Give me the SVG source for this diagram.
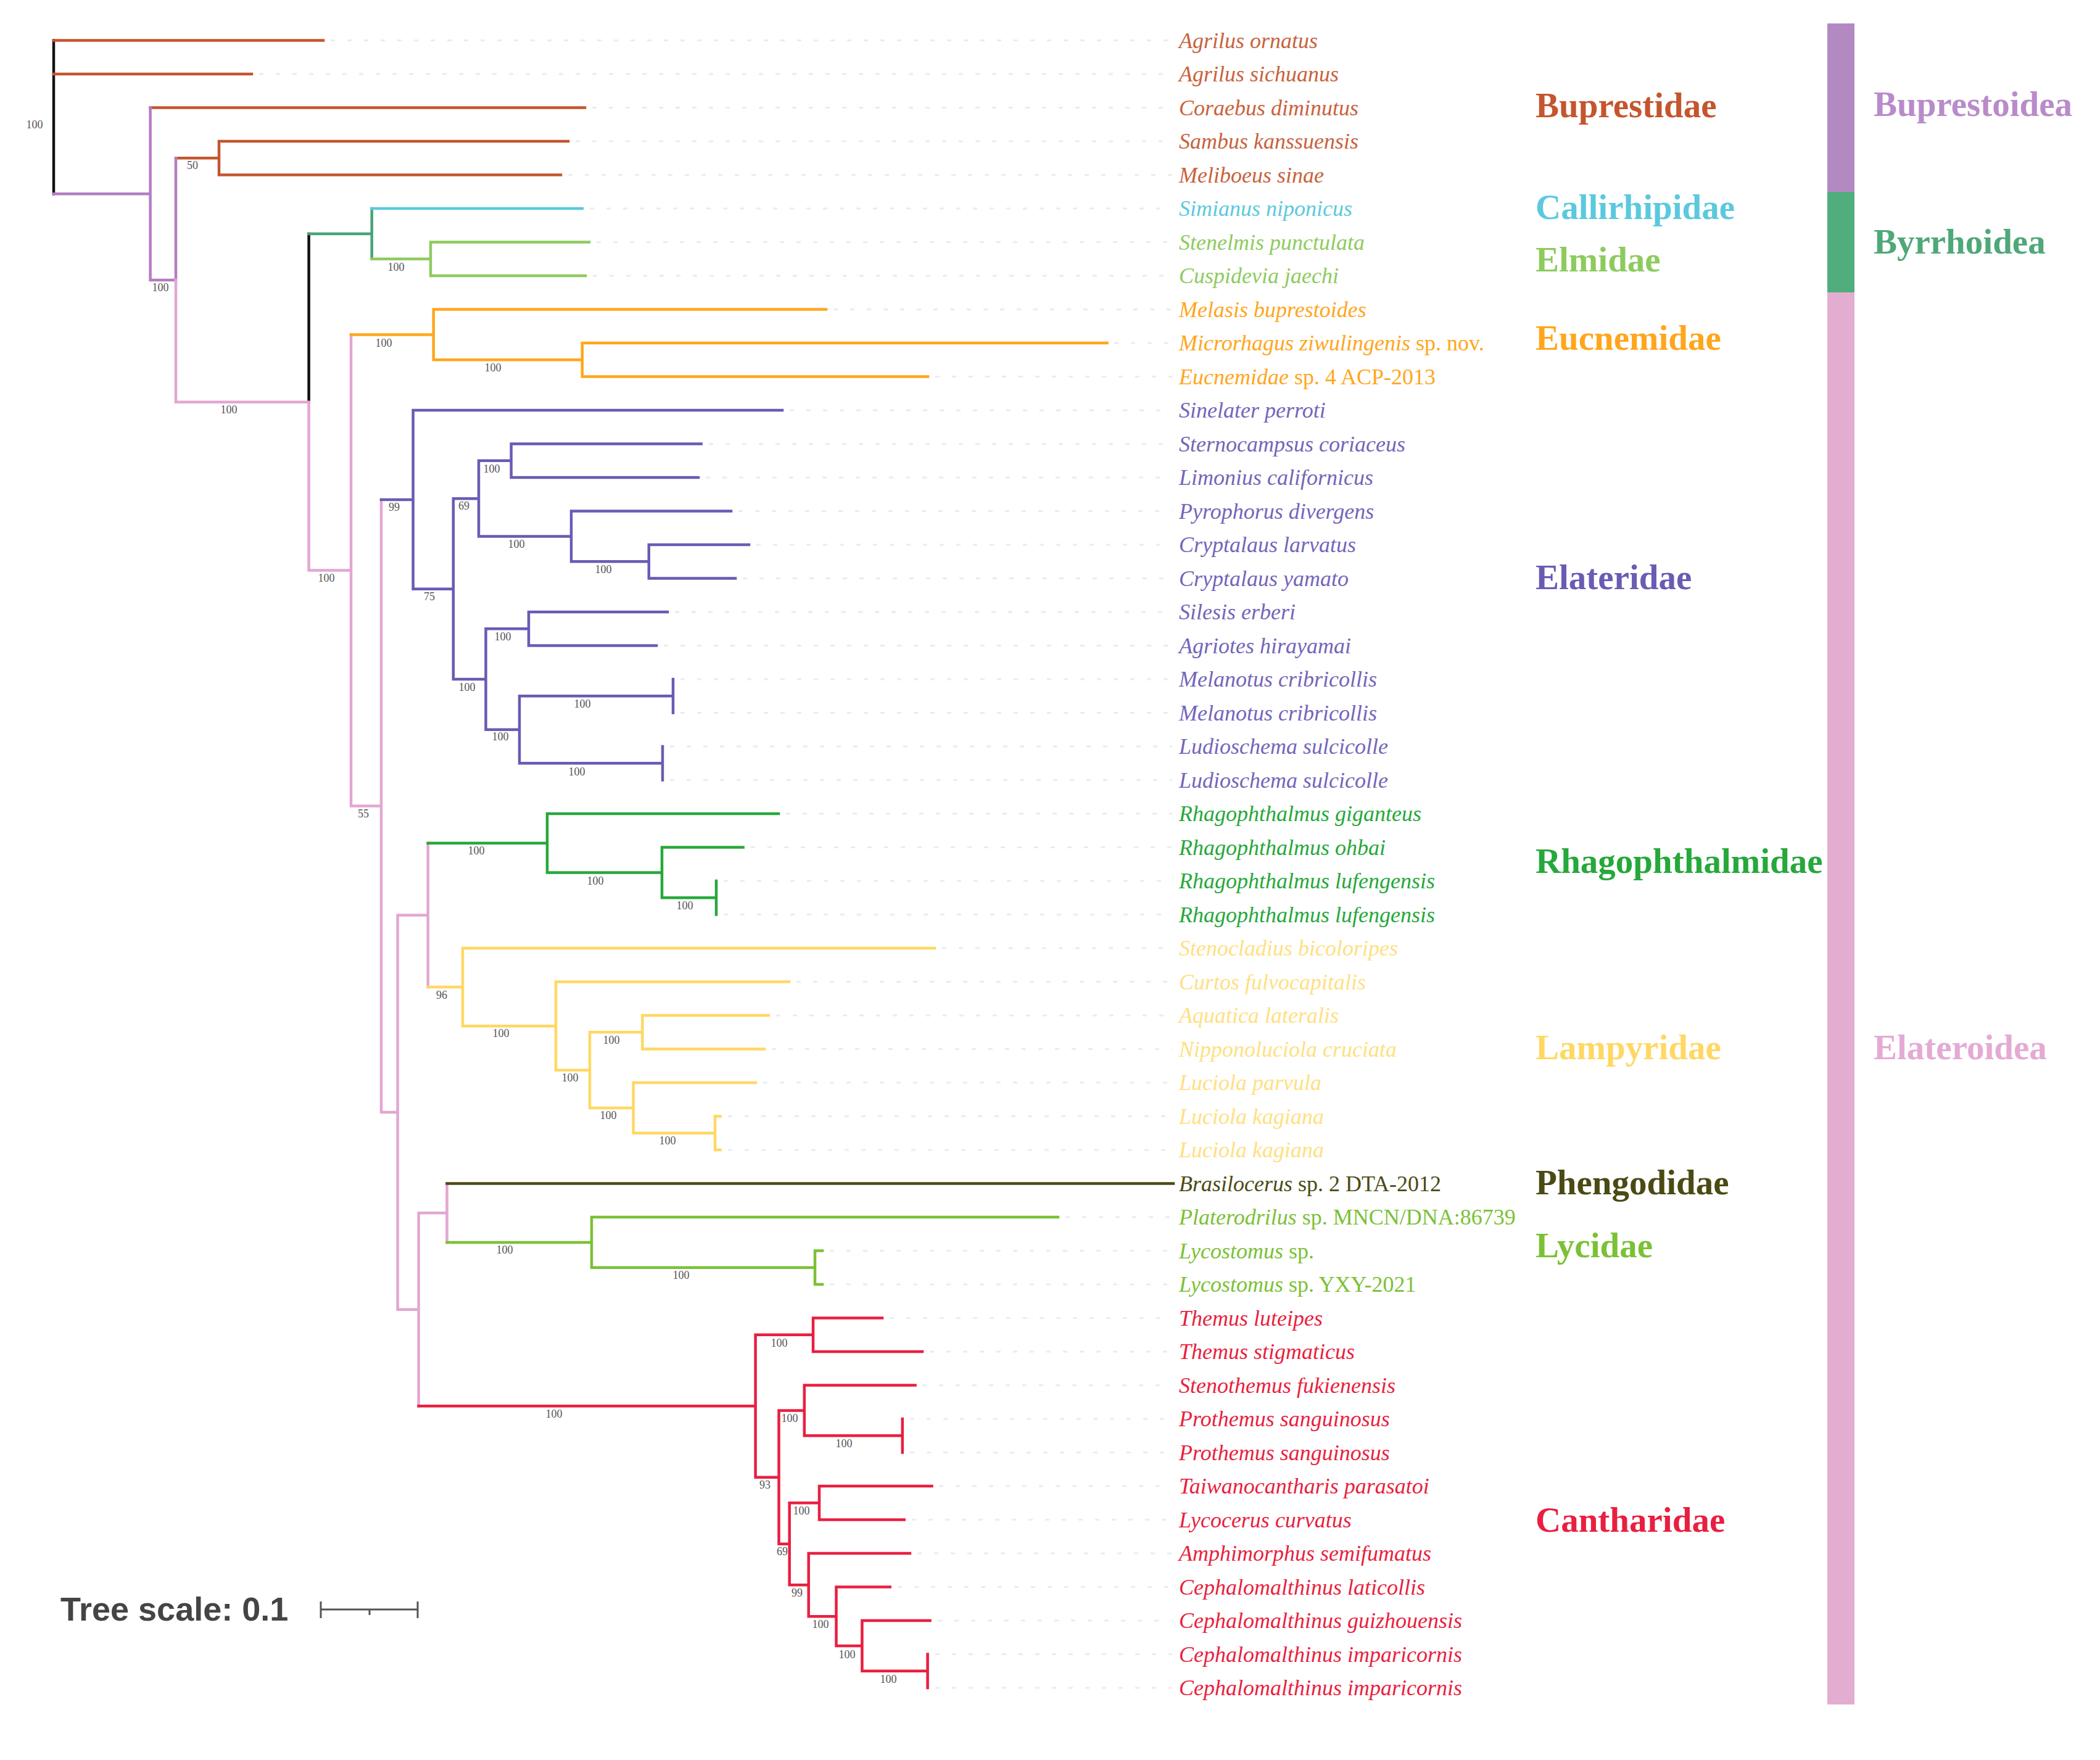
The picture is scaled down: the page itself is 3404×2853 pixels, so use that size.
<svg xmlns="http://www.w3.org/2000/svg" width="3404" height="2853" viewBox="0 0 3404 2853">
<style>
.br{fill:none;stroke-width:4.5;stroke-linecap:square}
.lf{font-family:"Liberation Serif","Times New Roman",serif;font-size:36px;font-style:italic}
.r{font-style:normal}
.fam{font-family:"Liberation Serif","Times New Roman",serif;font-size:57px;font-weight:bold}
.bs{font-family:"Liberation Serif","Times New Roman",serif;font-size:18px;fill:#555;text-anchor:middle}
.ld{stroke:#ECECEC;stroke-width:3;stroke-dasharray:7 20;fill:none}
.c-bup{fill:#C4552E}.c-cal{fill:#5BC9DD}.c-elm{fill:#8DCB5E}.c-euc{fill:#FFA61C}.c-ela{fill:#6A5BB3}
.c-rha{fill:#26A83B}.c-lam{fill:#FFD863}.c-phe{fill:#4B4A14}.c-lyc{fill:#7BC136}.c-can{fill:#E91F40}
.lf.c-bup{fill:#C8623C}.lf.c-lam{fill:#FFDF82}.lf.c-ela{fill:#7465BA}
</style>
<rect width="3404" height="2853" fill="#FFFFFF"/>

<g id="connectors">
  <path class="br" stroke="#111111" d="M87 65.6V314.3M500.6 379V651.75"/>
  <path class="br" stroke="#C4552E" d="M87 65.6H524M87 120.1H408M243.6 174.6H948M285 256.35H355M355 229.1V283.6M355 229.1H921M355 283.6H909"/>
  <path class="br" stroke="#B47DC3" d="M87 314.3H243.6M243.6 174.6V454.05M243.6 454.05H285M285 256.35V454.05"/>
  <path class="br" stroke="#E3A6D2" d="M285 454.05V651.75M285 651.75H500.6M500.6 651.75V924.5M500.6 924.5H569M569 542.5V1306.5M569 1306.5H618M618 809.9V1803.1M618 1803.1H644.6M644.6 1483.45V2122.8M644.6 1483.45H693.7M693.7 1366.8V1600.1M644.6 2122.8H678.6M678.6 1966.3V2279.25M678.6 1966.3H724.5M724.5 1918.6V2014"/>
  <path class="br" stroke="#45A676" d="M500.6 379H602.7M602.7 338.1V419.85"/>
  <path class="br" stroke="#5BC9DD" d="M602.7 338.1H943.8"/>
  <path class="br" stroke="#8DCB5E" d="M602.7 419.85H698M698 392.6V447.1M698 392.6H955M698 447.1H949"/>
  <path class="br" stroke="#FFA61C" d="M569 542.5H702.7M702.7 501.6V583.35M702.7 501.6H1339M702.7 583.35H943.75M943.75 556.1V610.6M943.75 556.1H1794.6M943.75 610.6H1504"/>
  <path class="br" stroke="#6A5BB3" d="M618 809.9H669.6M669.6 665.1V954.65M669.6 665.1H1268M669.6 954.65H734.8M734.8 808.2V1101.1M734.8 808.2H776M776 746.85V869.5M776 746.85H828.6M828.6 719.6V774.1M828.6 719.6H1136.6M828.6 774.1H1132M776 869.5H926M926 828.6V910.35M926 828.6H1185M926 910.35H1051.8M1051.8 883.1V937.6M1051.8 883.1H1214M1051.8 937.6H1192M734.8 1101.1H787.5M787.5 1019.35V1182.85M787.5 1019.35H857M857 992.1V1046.6M857 992.1H1082M857 1046.6H1064M787.5 1182.85H842M842 1128.35V1237.35M842 1128.35H1091M1091 1101.1V1155.6M842 1237.35H1074M1074 1210.1V1264.6"/>
  <path class="br" stroke="#26A83B" d="M693.7 1366.8H887M887 1319.1V1414.5M887 1319.1H1262M887 1414.5H1073M1073 1373.6V1455.35M1073 1373.6H1204.6M1073 1455.35H1161M1161 1428.1V1482.6"/>
  <path class="br" stroke="#FFD863" d="M693.7 1600.1H750M750 1537.1V1663.15M750 1537.1H1515M750 1663.15H901M901 1591.6V1734.7M901 1591.6H1279M901 1734.7H956M956 1673.35V1796M956 1673.35H1041.3M1041.3 1646.1V1700.6M1041.3 1646.1H1246M1041.3 1700.6H1239M956 1796H1026.6M1026.6 1755.1V1836.85M1026.6 1755.1H1225M1026.6 1836.85H1159M1159 1809.6V1864.1M1159 1809.6H1167.6M1159 1864.1H1167.6"/>
  <path class="br" stroke="#4B4A14" d="M724.5 1918.6H1902"/>
  <path class="br" stroke="#7BC136" d="M724.5 2014H959M959 1973.1V2054.85M959 1973.1H1715M959 2054.85H1321M1321 2027.6V2082.1M1321 2027.6H1333M1321 2082.1H1333"/>
  <path class="br" stroke="#E91F40" d="M678.6 2279.25H1224.6M1224.6 2163.85V2394.65M1224.6 2163.85H1318M1318 2136.6V2191.1M1318 2136.6H1430M1318 2191.1H1495M1224.6 2394.65H1262.5M1262.5 2286.5V2502.8M1262.5 2286.5H1303.8M1303.8 2245.6V2327.35M1303.8 2245.6H1483.5M1303.8 2327.35H1462.8M1462.8 2300.1V2354.6M1262.5 2502.8H1279.7M1279.7 2436.35V2569.2M1279.7 2436.35H1328M1328 2409.1V2463.6M1328 2409.1H1510.5M1328 2463.6H1465.7M1279.7 2569.2H1310.7M1310.7 2518.1V2620.3M1310.7 2518.1H1474.9M1310.7 2620.3H1355.5M1355.5 2572.6V2668M1355.5 2572.6H1442.7M1355.5 2668H1397.4M1397.4 2627.1V2708.85M1397.4 2627.1H1507.6M1397.4 2708.85H1503.6M1503.6 2681.6V2736.1"/>
</g>

<g id="support-values">
  <text class="bs" x="56" y="208">100</text>
  <text class="bs" x="260" y="472">100</text>
  <text class="bs" x="312" y="274">50</text>
  <text class="bs" x="642" y="439">100</text>
  <text class="bs" x="371" y="670">100</text>
  <text class="bs" x="529" y="943">100</text>
  <text class="bs" x="622" y="562">100</text>
  <text class="bs" x="799" y="602">100</text>
  <text class="bs" x="589" y="1325">55</text>
  <text class="bs" x="639" y="828">99</text>
  <text class="bs" x="696" y="973">75</text>
  <text class="bs" x="752" y="826">69</text>
  <text class="bs" x="797" y="766">100</text>
  <text class="bs" x="837" y="888">100</text>
  <text class="bs" x="978" y="929">100</text>
  <text class="bs" x="757" y="1120">100</text>
  <text class="bs" x="815" y="1038">100</text>
  <text class="bs" x="811" y="1200">100</text>
  <text class="bs" x="944" y="1147">100</text>
  <text class="bs" x="935" y="1257">100</text>
  <text class="bs" x="772" y="1385">100</text>
  <text class="bs" x="965" y="1434">100</text>
  <text class="bs" x="1110" y="1474">100</text>
  <text class="bs" x="716" y="1619">96</text>
  <text class="bs" x="812" y="1681">100</text>
  <text class="bs" x="924" y="1753">100</text>
  <text class="bs" x="991" y="1692">100</text>
  <text class="bs" x="986" y="1814">100</text>
  <text class="bs" x="1082" y="1855">100</text>
  <text class="bs" x="818" y="2032">100</text>
  <text class="bs" x="1104" y="2073">100</text>
  <text class="bs" x="898" y="2298">100</text>
  <text class="bs" x="1263" y="2183">100</text>
  <text class="bs" x="1240" y="2413">93</text>
  <text class="bs" x="1280" y="2305">100</text>
  <text class="bs" x="1368" y="2346">100</text>
  <text class="bs" x="1268" y="2521">69</text>
  <text class="bs" x="1299" y="2455">100</text>
  <text class="bs" x="1292" y="2588">99</text>
  <text class="bs" x="1330" y="2639">100</text>
  <text class="bs" x="1373" y="2688">100</text>
  <text class="bs" x="1440" y="2728">100</text>
</g>

<g id="leaves">
  <g id="leaf-00"><path class="ld" d="M536 65.6H1900"/><text class="lf c-bup" x="1911" y="77.6">Agrilus ornatus</text></g>
  <g id="leaf-01"><path class="ld" d="M420 120.1H1900"/><text class="lf c-bup" x="1911" y="132.1">Agrilus sichuanus</text></g>
  <g id="leaf-02"><path class="ld" d="M960 174.6H1900"/><text class="lf c-bup" x="1911" y="186.6">Coraebus diminutus</text></g>
  <g id="leaf-03"><path class="ld" d="M933 229.1H1900"/><text class="lf c-bup" x="1911" y="241.1">Sambus kanssuensis</text></g>
  <g id="leaf-04"><path class="ld" d="M921 283.6H1900"/><text class="lf c-bup" x="1911" y="295.6">Meliboeus sinae</text></g>
  <g id="leaf-05"><path class="ld" d="M956 338.1H1900"/><text class="lf c-cal" x="1911" y="350.1">Simianus niponicus</text></g>
  <g id="leaf-06"><path class="ld" d="M967 392.6H1900"/><text class="lf c-elm" x="1911" y="404.6">Stenelmis punctulata</text></g>
  <g id="leaf-07"><path class="ld" d="M961 447.1H1900"/><text class="lf c-elm" x="1911" y="459.1">Cuspidevia jaechi</text></g>
  <g id="leaf-08"><path class="ld" d="M1351 501.6H1900"/><text class="lf c-euc" x="1911" y="513.6">Melasis buprestoides</text></g>
  <g id="leaf-09"><path class="ld" d="M1806 556.1H1900"/><text class="lf c-euc" x="1911" y="568.1">Microrhagus ziwulingenis<tspan class="r"> sp. nov.</tspan></text></g>
  <g id="leaf-10"><path class="ld" d="M1516 610.6H1900"/><text class="lf c-euc" x="1911" y="622.6">Eucnemidae<tspan class="r"> sp. 4 ACP-2013</tspan></text></g>
  <g id="leaf-11"><path class="ld" d="M1280 665.1H1900"/><text class="lf c-ela" x="1911" y="677.1">Sinelater perroti</text></g>
  <g id="leaf-12"><path class="ld" d="M1149 719.6H1900"/><text class="lf c-ela" x="1911" y="731.6">Sternocampsus coriaceus</text></g>
  <g id="leaf-13"><path class="ld" d="M1144 774.1H1900"/><text class="lf c-ela" x="1911" y="786.1">Limonius californicus</text></g>
  <g id="leaf-14"><path class="ld" d="M1197 828.6H1900"/><text class="lf c-ela" x="1911" y="840.6">Pyrophorus divergens</text></g>
  <g id="leaf-15"><path class="ld" d="M1226 883.1H1900"/><text class="lf c-ela" x="1911" y="895.1">Cryptalaus larvatus</text></g>
  <g id="leaf-16"><path class="ld" d="M1204 937.6H1900"/><text class="lf c-ela" x="1911" y="949.6">Cryptalaus yamato</text></g>
  <g id="leaf-17"><path class="ld" d="M1094 992.1H1900"/><text class="lf c-ela" x="1911" y="1004.1">Silesis erberi</text></g>
  <g id="leaf-18"><path class="ld" d="M1076 1046.6H1900"/><text class="lf c-ela" x="1911" y="1058.6">Agriotes hirayamai</text></g>
  <g id="leaf-19"><path class="ld" d="M1103 1101.1H1900"/><text class="lf c-ela" x="1911" y="1113.1">Melanotus cribricollis</text></g>
  <g id="leaf-20"><path class="ld" d="M1103 1155.6H1900"/><text class="lf c-ela" x="1911" y="1167.6">Melanotus cribricollis</text></g>
  <g id="leaf-21"><path class="ld" d="M1086 1210.1H1900"/><text class="lf c-ela" x="1911" y="1222.1">Ludioschema sulcicolle</text></g>
  <g id="leaf-22"><path class="ld" d="M1086 1264.6H1900"/><text class="lf c-ela" x="1911" y="1276.6">Ludioschema sulcicolle</text></g>
  <g id="leaf-23"><path class="ld" d="M1274 1319.1H1900"/><text class="lf c-rha" x="1911" y="1331.1">Rhagophthalmus giganteus</text></g>
  <g id="leaf-24"><path class="ld" d="M1217 1373.6H1900"/><text class="lf c-rha" x="1911" y="1385.6">Rhagophthalmus ohbai</text></g>
  <g id="leaf-25"><path class="ld" d="M1173 1428.1H1900"/><text class="lf c-rha" x="1911" y="1440.1">Rhagophthalmus lufengensis</text></g>
  <g id="leaf-26"><path class="ld" d="M1173 1482.6H1900"/><text class="lf c-rha" x="1911" y="1494.6">Rhagophthalmus lufengensis</text></g>
  <g id="leaf-27"><path class="ld" d="M1527 1537.1H1900"/><text class="lf c-lam" x="1911" y="1549.1">Stenocladius bicoloripes</text></g>
  <g id="leaf-28"><path class="ld" d="M1291 1591.6H1900"/><text class="lf c-lam" x="1911" y="1603.6">Curtos fulvocapitalis</text></g>
  <g id="leaf-29"><path class="ld" d="M1258 1646.1H1900"/><text class="lf c-lam" x="1911" y="1658.1">Aquatica lateralis</text></g>
  <g id="leaf-30"><path class="ld" d="M1251 1700.6H1900"/><text class="lf c-lam" x="1911" y="1712.6">Nipponoluciola cruciata</text></g>
  <g id="leaf-31"><path class="ld" d="M1237 1755.1H1900"/><text class="lf c-lam" x="1911" y="1767.1">Luciola parvula</text></g>
  <g id="leaf-32"><path class="ld" d="M1180 1809.6H1900"/><text class="lf c-lam" x="1911" y="1821.6">Luciola kagiana</text></g>
  <g id="leaf-33"><path class="ld" d="M1180 1864.1H1900"/><text class="lf c-lam" x="1911" y="1876.1">Luciola kagiana</text></g>
  <g id="leaf-34"><text class="lf c-phe" x="1911" y="1930.6">Brasilocerus<tspan class="r"> sp. 2 DTA-2012</tspan></text></g>
  <g id="leaf-35"><path class="ld" d="M1727 1973.1H1900"/><text class="lf c-lyc" x="1911" y="1985.1">Platerodrilus<tspan class="r"> sp. MNCN/DNA:86739</tspan></text></g>
  <g id="leaf-36"><path class="ld" d="M1345 2027.6H1900"/><text class="lf c-lyc" x="1911" y="2039.6">Lycostomus<tspan class="r"> sp.</tspan></text></g>
  <g id="leaf-37"><path class="ld" d="M1345 2082.1H1900"/><text class="lf c-lyc" x="1911" y="2094.1">Lycostomus<tspan class="r"> sp. YXY-2021</tspan></text></g>
  <g id="leaf-38"><path class="ld" d="M1442 2136.6H1900"/><text class="lf c-can" x="1911" y="2148.6">Themus luteipes</text></g>
  <g id="leaf-39"><path class="ld" d="M1507 2191.1H1900"/><text class="lf c-can" x="1911" y="2203.1">Themus stigmaticus</text></g>
  <g id="leaf-40"><path class="ld" d="M1495 2245.6H1900"/><text class="lf c-can" x="1911" y="2257.6">Stenothemus fukienensis</text></g>
  <g id="leaf-41"><path class="ld" d="M1475 2300.1H1900"/><text class="lf c-can" x="1911" y="2312.1">Prothemus sanguinosus</text></g>
  <g id="leaf-42"><path class="ld" d="M1475 2354.6H1900"/><text class="lf c-can" x="1911" y="2366.6">Prothemus sanguinosus</text></g>
  <g id="leaf-43"><path class="ld" d="M1522 2409.1H1900"/><text class="lf c-can" x="1911" y="2421.1">Taiwanocantharis parasatoi</text></g>
  <g id="leaf-44"><path class="ld" d="M1478 2463.6H1900"/><text class="lf c-can" x="1911" y="2475.6">Lycocerus curvatus</text></g>
  <g id="leaf-45"><path class="ld" d="M1487 2518.1H1900"/><text class="lf c-can" x="1911" y="2530.1">Amphimorphus semifumatus</text></g>
  <g id="leaf-46"><path class="ld" d="M1455 2572.6H1900"/><text class="lf c-can" x="1911" y="2584.6">Cephalomalthinus laticollis</text></g>
  <g id="leaf-47"><path class="ld" d="M1520 2627.1H1900"/><text class="lf c-can" x="1911" y="2639.1">Cephalomalthinus guizhouensis</text></g>
  <g id="leaf-48"><path class="ld" d="M1516 2681.6H1900"/><text class="lf c-can" x="1911" y="2693.6">Cephalomalthinus imparicornis</text></g>
  <g id="leaf-49"><path class="ld" d="M1516 2736.1H1900"/><text class="lf c-can" x="1911" y="2748.1">Cephalomalthinus imparicornis</text></g>
</g>

<g id="families">
  <text id="fam-buprestidae" class="fam c-bup" x="2489" y="190">Buprestidae</text>
  <text id="fam-callirhipidae" class="fam c-cal" x="2489" y="355">Callirhipidae</text>
  <text id="fam-elmidae" class="fam c-elm" x="2489" y="440">Elmidae</text>
  <text id="fam-eucnemidae" class="fam c-euc" x="2489" y="567">Eucnemidae</text>
  <text id="fam-elateridae" class="fam c-ela" x="2489" y="955">Elateridae</text>
  <text id="fam-rhagophthalmidae" class="fam c-rha" x="2489" y="1415">Rhagophthalmidae</text>
  <text id="fam-lampyridae" class="fam c-lam" x="2489" y="1717">Lampyridae</text>
  <text id="fam-phengodidae" class="fam c-phe" x="2489" y="1936">Phengodidae</text>
  <text id="fam-lycidae" class="fam c-lyc" x="2489" y="2038">Lycidae</text>
  <text id="fam-cantharidae" class="fam c-can" x="2489" y="2483">Cantharidae</text>
</g>

<g id="superfamilies">
  <g id="sf-buprestoidea"><rect x="2962" y="38" width="44" height="273" fill="#B389C1"/><text class="fam" fill="#B98BCA" x="3037" y="188">Buprestoidea</text></g>
  <g id="sf-byrrhoidea"><rect x="2962" y="311" width="44" height="163" fill="#52AD7C"/><text class="fam" fill="#4FA878" x="3037" y="411">Byrrhoidea</text></g>
  <g id="sf-elateroidea"><rect x="2962" y="474" width="44" height="2289" fill="#E3ADD2"/><text class="fam" fill="#E4AAD4" x="3037" y="1717">Elateroidea</text></g>
</g>

<g id="tree-scale">
  <text x="98" y="2627" font-family="'Liberation Sans',Arial,sans-serif" font-size="54" font-weight="bold" fill="#444444">Tree scale: 0.1</text>
  <path d="M520 2609H677M520 2596V2623M677 2596V2623M599 2609V2618" stroke="#555555" stroke-width="3" fill="none"/>
</g>
</svg>
